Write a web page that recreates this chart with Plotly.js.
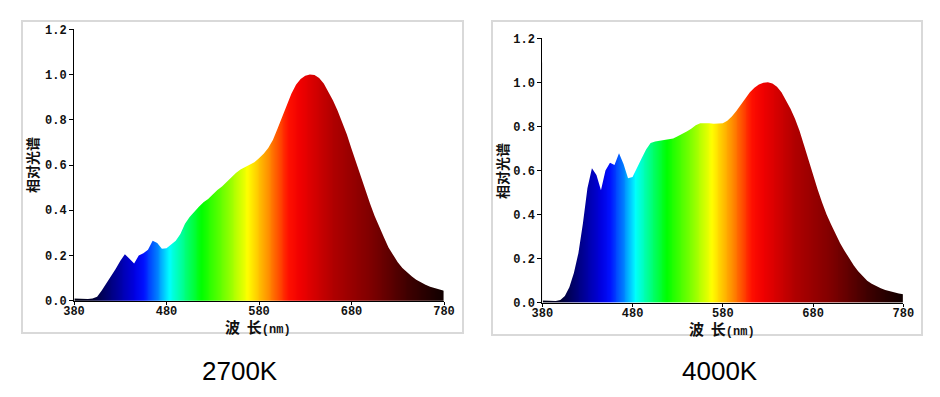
<!DOCTYPE html>
<html>
<head>
<meta charset="utf-8">
<script src="https://cdn.plot.ly/plotly-3.0.1.min.js"></script>
<style>html,body{margin:0;padding:0;background:#fff;}#chart{width:940px;height:397px;}</style>
</head>
<body>
<div id="chart"></div>
<script>
// Wavelength samples (nm)
const wavelengths = [380,385,390,395,400,405,410,415,420,425,430,435,440,445,450,455,460,465,470,475,
  480,485,490,495,500,505,510,515,520,525,530,535,540,545,550,555,560,565,570,575,
  580,585,590,595,600,605,610,615,620,625,630,635,640,645,650,655,660,665,670,675,
  680,685,690,695,700,705,710,715,720,725,730,735,740,745,750,755,760,765,770,775,780];

// Relative spectrum, 2700K
const spec2700 = [0.010,0.008,0.007,0.007,0.010,0.018,0.045,0.075,0.105,0.140,0.175,0.205,0.185,0.165,0.200,0.210,0.225,0.265,0.255,0.230,
  0.232,0.248,0.265,0.295,0.340,0.370,0.395,0.415,0.435,0.450,0.470,0.490,0.505,0.525,0.545,0.565,0.580,0.590,0.600,0.612,
  0.630,0.650,0.675,0.710,0.760,0.810,0.865,0.915,0.955,0.980,0.995,1.000,0.998,0.985,0.960,0.925,0.885,0.840,0.790,0.735,
  0.672,0.610,0.550,0.490,0.430,0.375,0.325,0.280,0.235,0.200,0.170,0.145,0.125,0.108,0.093,0.080,0.070,0.062,0.055,0.049,0.044];

// Relative spectrum, 4000K
const spec4000 = [0.010,0.009,0.008,0.008,0.012,0.030,0.070,0.135,0.225,0.360,0.520,0.610,0.580,0.510,0.600,0.635,0.625,0.678,0.630,0.565,
  0.570,0.615,0.655,0.695,0.725,0.732,0.735,0.737,0.740,0.745,0.755,0.765,0.777,0.790,0.805,0.814,0.815,0.814,0.812,0.812,
  0.814,0.826,0.845,0.870,0.900,0.930,0.955,0.975,0.990,0.998,1.000,0.995,0.980,0.955,0.920,0.880,0.835,0.780,0.715,0.645,
  0.575,0.515,0.455,0.400,0.355,0.310,0.270,0.235,0.200,0.170,0.143,0.120,0.100,0.086,0.075,0.066,0.058,0.052,0.047,0.042,0.038];

const xTicks = [380,480,580,680,780];
const chartLabels = ['2700K','4000K'];
const yTitle = '相对光谱';

// Spectrum colour stops (style)
const colorStops = [
  [380,'#000010'],[400,'#000030'],[420,'#000080'],[445,'#0000e0'],[455,'#0010ff'],
  [470,'#0080ff'],[483,'#00ffff'],[500,'#00ff80'],[518,'#00ff00'],[545,'#80ff00'],
  [568,'#ffff00'],[590,'#ff9000'],[612,'#ff1000'],[625,'#f00000'],[660,'#b00000'],
  [700,'#800000'],[740,'#400000'],[780,'#100000']
];
const colorscale = colorStops.map(s => [(s[0]-380)/400, s[1]]);

// gradient background grid: 1 nm bins, outer edges pulled in slightly so no sliver leaks past the mask
const gradEdges = [];
for (let w = 380; w <= 780; w++) gradEdges.push(w);
gradEdges[0] = 380.6;
gradEdges[gradEdges.length - 1] = 779.4;
const gradMid = [];
for (let i = 0; i < gradEdges.length - 1; i++) gradMid.push(380.5 + i);
const gradZ = [gradMid.slice(), gradMid.slice()];
const gradYEdges = [0, 0.55, 1.09];

function panel(spec, xs, ys) {
  return [
    {type:'heatmap', x:gradEdges, y:gradYEdges, z:gradZ, colorscale:colorscale, zmin:380, zmax:780,
     showscale:false, xaxis:xs, yaxis:ys, hoverinfo:'skip'},
    {type:'scatter', mode:'lines', x:wavelengths, y:spec, line:{width:0, color:'rgba(0,0,0,0)'},
     xaxis:xs, yaxis:ys, hoverinfo:'skip'},
    {type:'scatter', mode:'lines', x:wavelengths, y:wavelengths.map(()=>1.15), fill:'tonexty',
     fillcolor:'#ffffff', line:{width:0, color:'rgba(0,0,0,0)'}, xaxis:xs, yaxis:ys, hoverinfo:'skip'}
  ];
}

const data = [...panel(spec2700,'x','y'), ...panel(spec4000,'x2','y2')];

const tickFont = {family:'Liberation Mono, Courier New, monospace', size:12, color:'#111', weight:'bold'};
function xAxis(domain, anchor) {
  return {domain:domain, anchor:anchor, range:[380,780], tickvals:xTicks, ticktext:xTicks.map(String),
    showline:true, linecolor:'#000', linewidth:1, ticks:'outside', ticklen:3, tickcolor:'#000',
    ticklabelstandoff:-4,
    showgrid:false, zeroline:false, tickfont:tickFont, fixedrange:true};
}
function yAxis(domain, anchor) {
  return {domain:domain, anchor:anchor, range:[0,1.2], dtick:0.2, tick0:0, tickformat:'.1f',
    showline:true, linecolor:'#000', linewidth:1, ticks:'outside', ticklen:4, tickcolor:'#000',
    showgrid:false, zeroline:false, tickfont:tickFont, fixedrange:true};
}

const W = 940, H = 397;
const px = v => v / W, py = v => 1 - v / H;

const cjk = 'Noto Sans CJK SC, sans-serif';
const xTitle = '<b>波&nbsp;&nbsp;长</b><span style="font-family:Liberation Mono;font-size:12px;font-weight:bold">(nm)</span>';

const layout = {
  width:W, height:H, margin:{l:0,r:0,t:0,b:0}, paper_bgcolor:'#fff', plot_bgcolor:'#fff',
  showlegend:false, hovermode:false,
  xaxis: xAxis([px(74), px(444)], 'y'),
  yaxis: yAxis([py(300.7), py(29.3)], 'x'),
  xaxis2: xAxis([px(542.3), px(903.3)], 'y2'),
  yaxis2: yAxis([py(302.7), py(38.3)], 'x2'),
  shapes: [
    {type:'rect', xref:'paper', yref:'paper', x0:px(22), x1:px(463), y0:py(333), y1:py(21),
     line:{color:'#d9d9d9', width:2}, layer:'below'},
    {type:'rect', xref:'paper', yref:'paper', x0:px(492), x1:px(922), y0:py(335), y1:py(21),
     line:{color:'#d9d9d9', width:2}, layer:'below'}
  ],
  annotations: [
    {text:'<b>'+yTitle+'</b>', xref:'paper', yref:'paper', x:px(32), y:py(165), textangle:-90, showarrow:false,
     font:{family:cjk, size:14, color:'#111'}, xanchor:'center', yanchor:'middle'},
    {text:'<b>'+yTitle+'</b>', xref:'paper', yref:'paper', x:px(502), y:py(171), textangle:-90, showarrow:false,
     font:{family:cjk, size:14, color:'#111'}, xanchor:'center', yanchor:'middle'},
    {text:xTitle, xref:'paper', yref:'paper', x:px(258), y:py(326), showarrow:false,
     font:{family:cjk, size:15, color:'#111'}, xanchor:'center', yanchor:'middle'},
    {text:xTitle, xref:'paper', yref:'paper', x:px(722), y:py(328), showarrow:false,
     font:{family:cjk, size:15, color:'#111'}, xanchor:'center', yanchor:'middle'},
    {text:chartLabels[0], xref:'paper', yref:'paper', x:px(240), y:py(371), showarrow:false,
     font:{family:'Liberation Sans, Arial, sans-serif', size:26, color:'#000'}, xanchor:'center', yanchor:'middle'},
    {text:chartLabels[1], xref:'paper', yref:'paper', x:px(720), y:py(371), showarrow:false,
     font:{family:'Liberation Sans, Arial, sans-serif', size:26, color:'#000'}, xanchor:'center', yanchor:'middle'}
  ]
};

Plotly.newPlot('chart', data, layout, {staticPlot:true, displayModeBar:false});
</script>
</body>
</html>
